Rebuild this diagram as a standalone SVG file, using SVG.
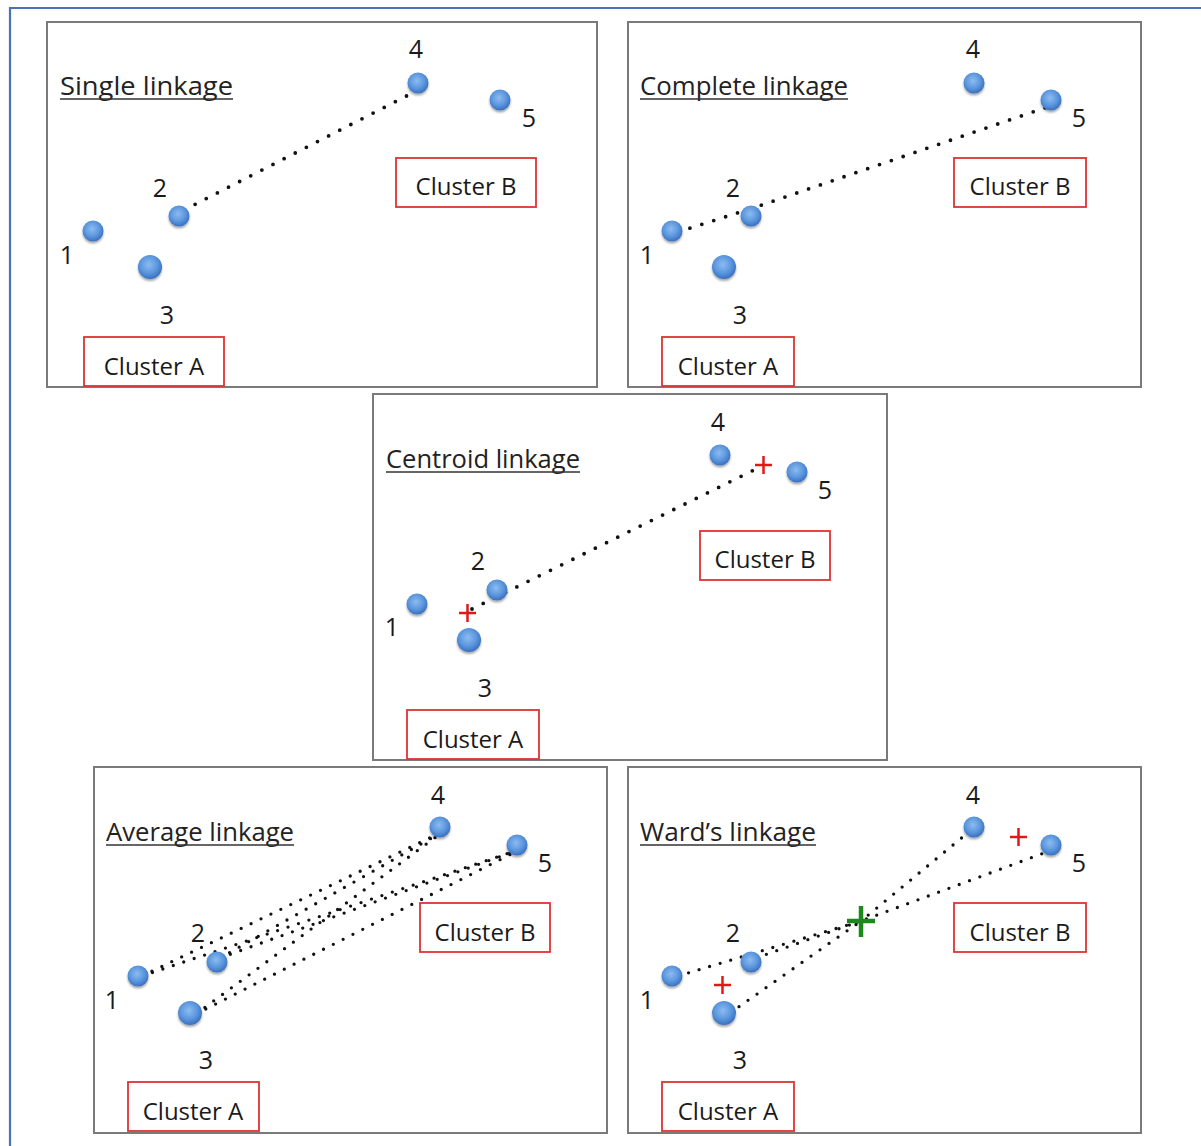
<svg xmlns="http://www.w3.org/2000/svg" width="1201" height="1146" viewBox="0 0 1201 1146">
<defs>
<radialGradient id="dotg" cx="45%" cy="40%" r="60%">
<stop offset="0" stop-color="#8cbcf0"/>
<stop offset="0.6" stop-color="#5b96de"/>
<stop offset="1" stop-color="#3a70bf"/>
</radialGradient>
<filter id="sh" x="-30%" y="-30%" width="160%" height="160%">
<feGaussianBlur in="SourceAlpha" stdDeviation="1.2"/>
<feOffset dx="0" dy="1.5" result="b"/>
<feComponentTransfer><feFuncA type="linear" slope="0.35"/></feComponentTransfer>
<feMerge><feMergeNode/><feMergeNode in="SourceGraphic"/></feMerge>
</filter>
</defs>
<style>
.panel{fill:#fff;stroke:#7a7a7a;stroke-width:2}
.title{font-family:"Open Sans","Liberation Sans",sans-serif;font-size:25px;fill:#222}
.ul{stroke:#333;stroke-width:1.5}
.num{font-family:"Open Sans","Liberation Sans",sans-serif;font-size:25px;fill:#1a1a1a;text-anchor:middle}
.cbox{fill:#fff;stroke:#d33;stroke-width:1.8}
.ctext{font-family:"Open Sans","Liberation Sans",sans-serif;font-size:24px;fill:#1a1a1a;text-anchor:middle}
.dot{fill:url(#dotg);filter:url(#sh)}
.link{fill:none;stroke:#111;stroke-width:3.8;stroke-linecap:round;stroke-dasharray:0 12.5}
.link2{fill:none;stroke:#111;stroke-width:3.3;stroke-linecap:round;stroke-dasharray:0 11}
.rp{stroke:#e01818;stroke-width:2.5}
.gp{stroke:#1b8a1b;stroke-width:4.5}
.frame{stroke:#4a72b8;stroke-width:2.2;fill:none}
</style>

<path class="frame" d="M10 1146 V8 H1201"/>

<!-- Panels -->
<g id="panel-single">
<rect class="panel" x="47" y="22" width="550" height="365"/>
<text class="title" x="60" y="95" textLength="173" lengthAdjust="spacingAndGlyphs">Single linkage</text>
<line class="ul" x1="60" y1="99" x2="233" y2="99"/>
</g>
<g id="panel-complete">
<rect class="panel" x="628" y="22" width="513" height="365"/>
<text class="title" x="640" y="95" textLength="208" lengthAdjust="spacingAndGlyphs">Complete linkage</text>
<line class="ul" x1="640" y1="99" x2="848" y2="99"/>
</g>
<g id="panel-centroid">
<rect class="panel" x="373" y="394" width="514" height="366"/>
<text class="title" x="386" y="468" textLength="194" lengthAdjust="spacingAndGlyphs">Centroid linkage</text>
<line class="ul" x1="386" y1="472" x2="580" y2="472"/>
</g>
<g id="panel-average">
<rect class="panel" x="94" y="767" width="513" height="366"/>
<text class="title" x="106" y="841" textLength="188" lengthAdjust="spacingAndGlyphs">Average linkage</text>
<line class="ul" x1="106" y1="845" x2="294" y2="845"/>
</g>
<g id="panel-ward">
<rect class="panel" x="628" y="767" width="513" height="366"/>
<text class="title" x="640" y="841" textLength="176" lengthAdjust="spacingAndGlyphs">Ward’s linkage</text>
<line class="ul" x1="640" y1="845" x2="816" y2="845"/>
</g>

<!-- Connectors -->
<g id="connectors">
<line class="link" x1="184" y1="210" x2="424" y2="87"/>
<polyline class="link" points="678,232 756,207 1056,104"/>
<line class="link" x1="472" y1="609" x2="758" y2="468"/>
<line class="link2" x1="142" y1="976" x2="444" y2="831"/>
<line class="link2" x1="142" y1="976" x2="521" y2="849"/>
<line class="link2" x1="220" y1="958" x2="444" y2="831"/>
<line class="link2" x1="220" y1="958" x2="521" y2="849"/>
<line class="link2" x1="196" y1="1014" x2="444" y2="831"/>
<line class="link2" x1="196" y1="1014" x2="521" y2="849"/>
<line class="link2" x1="678" y1="976" x2="861" y2="921"/>
<line class="link2" x1="756" y1="958" x2="861" y2="921"/>
<line class="link2" x1="730" y1="1013" x2="861" y2="921"/>
<line class="link2" x1="970" y1="831" x2="861" y2="921"/>
<line class="link2" x1="1052" y1="850" x2="861" y2="921"/>
</g>

<!-- Single linkage nodes -->
<g id="single-nodes">
<circle class="dot" cx="93" cy="231" r="10.5"/>
<circle class="dot" cx="179" cy="216" r="10.5"/>
<circle class="dot" cx="150" cy="267" r="12"/>
<circle class="dot" cx="418" cy="83" r="10.5"/>
<circle class="dot" cx="500" cy="100" r="10.5"/>
<text class="num" x="67" y="264">1</text>
<text class="num" x="160" y="197">2</text>
<text class="num" x="167" y="324">3</text>
<text class="num" x="416" y="58">4</text>
<text class="num" x="529" y="127">5</text>
<rect class="cbox" x="84" y="337" width="140" height="49"/>
<text class="ctext" x="154" y="375">Cluster A</text>
<rect class="cbox" x="396" y="158" width="140" height="49"/>
<text class="ctext" x="466" y="195">Cluster B</text>
</g>

<!-- Complete linkage nodes -->
<g id="complete-nodes">
<circle class="dot" cx="672" cy="231" r="10.5"/>
<circle class="dot" cx="751" cy="216" r="10.5"/>
<circle class="dot" cx="724" cy="267" r="12"/>
<circle class="dot" cx="974" cy="83" r="10.5"/>
<circle class="dot" cx="1051" cy="100" r="10.5"/>
<text class="num" x="647" y="264">1</text>
<text class="num" x="733" y="197">2</text>
<text class="num" x="740" y="324">3</text>
<text class="num" x="973" y="58">4</text>
<text class="num" x="1079" y="127">5</text>
<rect class="cbox" x="662" y="337" width="132" height="49"/>
<text class="ctext" x="728" y="375">Cluster A</text>
<rect class="cbox" x="954" y="158" width="132" height="49"/>
<text class="ctext" x="1020" y="195">Cluster B</text>
</g>

<!-- Centroid linkage nodes -->
<g id="centroid-nodes">
<circle class="dot" cx="417" cy="604" r="10.5"/>
<circle class="dot" cx="497" cy="590" r="10.5"/>
<circle class="dot" cx="469" cy="640" r="12"/>
<circle class="dot" cx="720" cy="455" r="10.5"/>
<circle class="dot" cx="797" cy="472" r="10.5"/>
<text class="num" x="392" y="636">1</text>
<text class="num" x="478" y="570">2</text>
<text class="num" x="485" y="697">3</text>
<text class="num" x="718" y="431">4</text>
<text class="num" x="825" y="499">5</text>
<path class="rp" d="M459 613 H476 M467.5 604 V622"/>
<path class="rp" d="M755 465 H772 M763.5 456 V474"/>
<rect class="cbox" x="700" y="531" width="130" height="49"/>
<text class="ctext" x="765" y="568">Cluster B</text>
<rect class="cbox" x="407" y="710" width="132" height="49"/>
<text class="ctext" x="473" y="748">Cluster A</text>
</g>

<!-- Average linkage nodes -->
<g id="average-nodes">
<circle class="dot" cx="138" cy="976" r="10.5"/>
<circle class="dot" cx="217" cy="962" r="10.5"/>
<circle class="dot" cx="190" cy="1013" r="12"/>
<circle class="dot" cx="440" cy="827" r="10.5"/>
<circle class="dot" cx="517" cy="845" r="10.5"/>
<text class="num" x="112" y="1009">1</text>
<text class="num" x="198" y="942">2</text>
<text class="num" x="206" y="1069">3</text>
<text class="num" x="438" y="804">4</text>
<text class="num" x="545" y="872">5</text>
<rect class="cbox" x="420" y="903" width="130" height="49"/>
<text class="ctext" x="485" y="941">Cluster B</text>
<rect class="cbox" x="128" y="1082" width="131" height="49"/>
<text class="ctext" x="193" y="1120">Cluster A</text>
</g>

<!-- Ward's linkage nodes -->
<g id="ward-nodes">
<circle class="dot" cx="672" cy="976" r="10.5"/>
<circle class="dot" cx="751" cy="962" r="10.5"/>
<circle class="dot" cx="724" cy="1013" r="12"/>
<circle class="dot" cx="974" cy="827" r="10.5"/>
<circle class="dot" cx="1051" cy="845" r="10.5"/>
<text class="num" x="647" y="1009">1</text>
<text class="num" x="733" y="942">2</text>
<text class="num" x="740" y="1069">3</text>
<text class="num" x="973" y="804">4</text>
<text class="num" x="1079" y="872">5</text>
<path class="rp" d="M714 985 H731 M722.5 976 V994"/>
<path class="rp" d="M1010 837 H1027 M1018.5 828 V846"/>
<path class="gp" d="M847 921 H875 M861 906 V937"/>
<rect class="cbox" x="954" y="903" width="132" height="49"/>
<text class="ctext" x="1020" y="941">Cluster B</text>
<rect class="cbox" x="662" y="1082" width="132" height="49"/>
<text class="ctext" x="728" y="1120">Cluster A</text>
</g>
</svg>
